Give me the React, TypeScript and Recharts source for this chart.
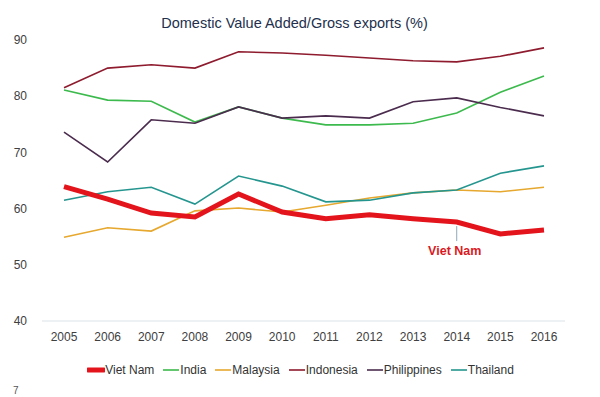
import React from 'react';
import { LineChart, Line, XAxis, YAxis, LabelList } from 'recharts';

const years = ['2005', '2006', '2007', '2008', '2009', '2010', '2011', '2012', '2013', '2014', '2015', '2016'];
const vietNam = [63.9, 61.7, 59.2, 58.5, 62.6, 59.4, 58.2, 58.9, 58.2, 57.6, 55.5, 56.2];
const india = [81.1, 79.3, 79.1, 75.4, 78.1, 76.1, 74.9, 74.9, 75.2, 77.0, 80.7, 83.6];
const malaysia = [54.9, 56.6, 56.0, 59.6, 60.1, 59.4, 60.6, 61.9, 62.8, 63.3, 63.0, 63.8];
const indonesia = [81.5, 85.0, 85.6, 85.0, 87.9, 87.7, 87.3, 86.8, 86.3, 86.1, 87.1, 88.6];
const philippines = [73.6, 68.3, 75.8, 75.2, 78.1, 76.1, 76.5, 76.1, 79.0, 79.7, 78.0, 76.5];
const thailand = [61.5, 63.0, 63.8, 60.8, 65.8, 64.0, 61.2, 61.5, 62.8, 63.3, 66.3, 67.6];
const yTicks = [40, 50, 60, 70, 80, 90];

const data = years.map((year, i) => ({
  year,
  vietNam: vietNam[i],
  india: india[i],
  malaysia: malaysia[i],
  indonesia: indonesia[i],
  philippines: philippines[i],
  thailand: thailand[i],
}));

const series = [
  { key: 'vietNam', name: 'Viet Nam', color: '#e3141c', width: 5 },
  { key: 'india', name: 'India', color: '#3dba4d', width: 1.6 },
  { key: 'malaysia', name: 'Malaysia', color: '#e6a82e', width: 1.6 },
  { key: 'indonesia', name: 'Indonesia', color: '#8e1b2e', width: 1.6 },
  { key: 'philippines', name: 'Philippines', color: '#4b2c4e', width: 1.6 },
  { key: 'thailand', name: 'Thailand', color: '#25968f', width: 1.6 },
];

const font = '"Liberation Sans", Arial, sans-serif';

function VietNamLabel(props: any) {
  const { x, y, index } = props;
  if (index !== 9) return null;
  return (
    <g>
      <line x1={x} y1={y + 4} x2={x} y2={y + 19} stroke="#8fa7b8" strokeWidth={1} />
      <text x={x - 2} y={y + 33} textAnchor="middle" fill="#d91a24" fontSize={12.5} fontWeight="bold" fontFamily={font}>
        Viet Nam
      </text>
    </g>
  );
}

function ChartLegend() {
  return (
    <div style={{ display: 'flex', justifyContent: 'center', gap: 8, fontFamily: font, fontSize: 12, color: '#333' }}>
      {series.map((s) => (
        <div key={s.key} style={{ display: 'flex', alignItems: 'center' }}>
          <svg width={18} height={8}>
            <line x1={1} y1={4} x2={17} y2={4} stroke={s.color} strokeWidth={s.width} strokeLinecap={s.width > 3 ? 'round' : 'butt'} />
          </svg>
          <span>{s.name}</span>
        </div>
      ))}
    </div>
  );
}

export default function App() {
  return (
    <div style={{ position: 'absolute', left: 0, top: 0, width: 600, height: 397, background: '#fff', fontFamily: font }}>
      <div style={{ position: 'absolute', top: 15, left: 0, width: 589, textAlign: 'center', fontSize: 14.5, color: '#22304d' }}>
        Domestic Value Added/Gross exports (%)
      </div>
      <LineChart width={600} height={397} data={data} margin={{ top: 40, right: 35, bottom: 46, left: 0 }}>
        <XAxis
          dataKey="year"
          axisLine={{ stroke: '#dde3e8' }}
          tickLine={false}
          padding={{ left: 22, right: 21 }}
          tick={{ fill: '#404040', fontSize: 12, fontFamily: font }}
          tickMargin={5}
        />
        <YAxis
          domain={[40, 90]}
          ticks={yTicks}
          width={42}
          axisLine={false}
          tickLine={false}
          tickMargin={9}
          tick={{ fill: '#404040', fontSize: 12, fontFamily: font }}
        />
        {series.slice(1).map((s) => (
          <Line
            key={s.key}
            dataKey={s.key}
            name={s.name}
            stroke={s.color}
            strokeWidth={s.width}
            dot={false}
            type="linear"
            isAnimationActive={false}
          />
        ))}
        <Line
          dataKey="vietNam"
          name="Viet Nam"
          stroke="#e3141c"
          strokeWidth={5}
          dot={false}
          type="linear"
          isAnimationActive={false}
        >
          <LabelList dataKey="vietNam" content={<VietNamLabel />} />
        </Line>
      </LineChart>
      <div style={{ position: 'absolute', top: 363, left: 0, width: 601 }}>
        <ChartLegend />
      </div>
      <div style={{ position: 'absolute', top: 385, left: 13, fontSize: 10, color: '#555' }}>7</div>
    </div>
  );
}
